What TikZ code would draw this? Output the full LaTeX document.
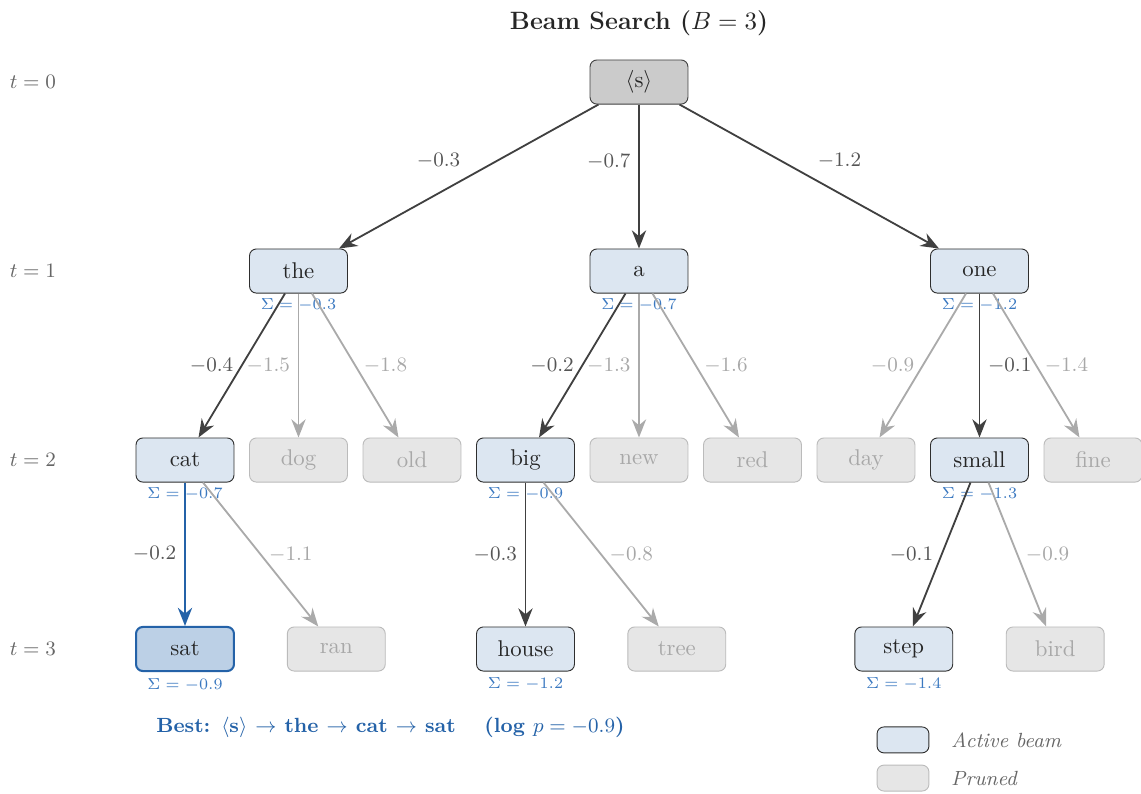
\documentclass[tikz,border=0pt]{standalone}
\usetikzlibrary{arrows.meta}

\definecolor{beamfill}{HTML}{DCE6F1}
\definecolor{beamdraw}{HTML}{2E2E2E}
\definecolor{prunefill}{HTML}{E6E6E6}
\definecolor{prunedraw}{HTML}{BBBBBB}
\definecolor{prunetext}{HTML}{A8A8A8}
\definecolor{rootfill}{HTML}{CBCBCB}
\definecolor{bestfill}{HTML}{BCD0E6}
\definecolor{bestblue}{HTML}{2462A8}
\definecolor{sigmablue}{HTML}{3A78C0}
\definecolor{darkedge}{HTML}{404040}
\definecolor{lightedge}{HTML}{AAAAAA}
\definecolor{lbldark}{HTML}{555555}
\definecolor{timegray}{HTML}{666666}

\tikzset{
	box/.style={rectangle, rounded corners=3pt, minimum width=1.51cm, minimum height=0.68cm, inner sep=2pt},
	beam/.style={box, draw=beamdraw, fill=beamfill, text=black!85},
	pruned/.style={box, draw=prunedraw, fill=prunefill, text=prunetext},
	sigma/.style={font=\scriptsize, text=sigmablue, inner sep=0pt},
	lbl/.style={font=\small, text=lbldark},
	lblgray/.style={font=\small, text=prunetext},
}

\begin{document}
\begin{tikzpicture}[x=1.75cm, y=2.914cm]
		\useasboundingbox (-5.63,0.434) rectangle (4.423,-3.767);

		\node[font=\fontsize{11}{13}\selectfont\bfseries, text=black!85] (title) at (0,0.312) {Beam Search ($B=3$)};

		\foreach \k in {0,...,3}
			\node[font=\small, text=timegray] (t\k) at (-5.34,-\k) {$t=\k$};

		\begin{scope}[every node/.style={beam}]
			\node[draw=black!75, fill=rootfill] (root) at (0,0) {$\langle$s$\rangle$};
			\node (the) at (-3,-1) {the};
			\node (a) at (0,-1) {a};
			\node (one) at (3,-1) {one};
			\node (cat) at (-4,-2) {cat};
			\node (big) at (-1,-2) {big};
			\node (small) at (3,-2) {small};
			\node[draw=bestblue, fill=bestfill, line width=0.9pt] (sat) at (-4,-3) {sat};
			\node (house) at (-1,-3) {house};
			\node (step) at (2.333,-3) {step};
		\end{scope}

		\begin{scope}[every node/.style={pruned}]
			\node (dog) at (-3,-2) {dog};
			\node (old) at (-2,-2) {old};
			\node (new) at (0,-2) {new};
			\node (red) at (1,-2) {red};
			\node (day) at (2,-2) {day};
			\node (fine) at (4,-2) {fine};
			\node (ran) at (-2.667,-3) {ran};
			\node (tree) at (0.333,-3) {tree};
			\node (bird) at (3.667,-3) {bird};
		\end{scope}

		% running scores under the kept hypotheses
		\node[sigma] (sthe) at ([yshift=-0.18cm]the.south) {$\Sigma=-0.3$};
		\node[sigma] (sa) at ([yshift=-0.18cm]a.south) {$\Sigma=-0.7$};
		\node[sigma] (sone) at ([yshift=-0.18cm]one.south) {$\Sigma=-1.2$};
		\node[sigma] (scat) at ([yshift=-0.18cm]cat.south) {$\Sigma=-0.7$};
		\node[sigma] (sbig) at ([yshift=-0.18cm]big.south) {$\Sigma=-0.9$};
		\node[sigma] (ssmall) at ([yshift=-0.18cm]small.south) {$\Sigma=-1.3$};
		\node[sigma] (ssat) at ([yshift=-0.2cm]sat.south) {$\Sigma=-0.9$};
		\node[sigma] (shouse) at ([yshift=-0.2cm]house.south) {$\Sigma=-1.2$};
		\node[sigma] (sstep) at ([yshift=-0.2cm]step.south) {$\Sigma=-1.4$};

		\begin{scope}[every edge/.style={draw=darkedge, line width=0.8pt, -{Stealth[length=2.8mm, width=2.2mm]}}]
			\path (root) edge node[lbl, above left] {$-0.3$} (the);
			\path (root) edge node[lbl, pos=0.4, left] {$-0.7$} (a);
			\path (root) edge node[lbl, above right] {$-1.2$} (one);
			\path (the) edge node[lbl, left] {$-0.4$} (cat);
			\path (a) edge node[lbl, left] {$-0.2$} (big);
			\path (one) edge node[lbl, right] {$-0.1$} (small);
			\path (big) edge node[lbl, left] {$-0.3$} (house);
			\path (small) edge node[lbl, left] {$-0.1$} (step);
			\path (cat) edge[draw=bestblue, line width=1pt] node[lbl, left] {$-0.2$} (sat);
		\end{scope}

		\begin{scope}[every edge/.style={draw=lightedge, line width=0.8pt, -{Stealth[length=2.8mm, width=2.2mm]}}]
			\path (the) edge node[lblgray, left] {$-1.5$} (dog);
			\path (the) edge node[lblgray, right] {$-1.8$} (old);
			\path (a) edge node[lblgray, left] {$-1.3$} (new);
			\path (a) edge node[lblgray, right] {$-1.6$} (red);
			\path (one) edge node[lblgray, left] {$-0.9$} (day);
			\path (one) edge node[lblgray, right] {$-1.4$} (fine);
			\path (cat) edge node[lblgray, right] {$-1.1$} (ran);
			\path (big) edge node[lblgray, right] {$-0.8$} (tree);
			\path (small) edge node[lblgray, right] {$-0.9$} (bird);
		\end{scope}

		\node[font=\small\bfseries, text=bestblue] (best) at (-2.19,-3.413) {Best: $\langle$s$\rangle$ $\rightarrow$ the $\rightarrow$ cat $\rightarrow$ sat \quad (log $p=-0.9$)};

		% legend
		\node[beam, minimum width=0.8cm, minimum height=0.4cm] (keybeam) at (2.326,-3.481) {};
		\node[pruned, minimum width=0.8cm, minimum height=0.4cm] (keypruned) at (2.326,-3.683) {};
		\node[font=\small\itshape, text=timegray, anchor=west] (keybeamtxt) at (2.68,-3.481) {Active beam};
		\node[font=\small\itshape, text=timegray, anchor=west] (keyprunedtxt) at (2.68,-3.683) {Pruned};

	\end{tikzpicture}
\end{document}
